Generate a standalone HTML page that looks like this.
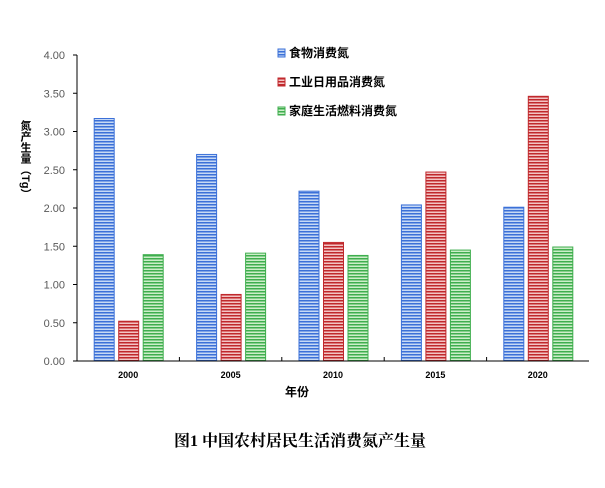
<!DOCTYPE html>
<html><head><meta charset="utf-8"><style>
body{margin:0;background:#fff;}
svg text{font-family:"Liberation Sans","Noto Sans CJK SC",sans-serif;}
</style></head><body>
<svg width="605" height="483" xmlns="http://www.w3.org/2000/svg">
<defs>
<pattern id="pb" width="4" height="3" patternUnits="userSpaceOnUse"><rect width="4" height="3" fill="#c6d9f5"/><rect width="4" height="1.5" fill="#3b70d8"/></pattern>
<pattern id="pr" width="4" height="3" patternUnits="userSpaceOnUse"><rect width="4" height="3" fill="#f3c4c4"/><rect width="4" height="1.5" fill="#c0282c"/></pattern>
<pattern id="pg" width="4" height="3" patternUnits="userSpaceOnUse"><rect width="4" height="3" fill="#cdeec9"/><rect width="4" height="1.5" fill="#3fae4e"/></pattern>
</defs>
<g id="plot"></g>
<text x="25" y="120" font-size="11" font-weight="bold" writing-mode="tb" text-orientation="mixed" style="writing-mode:vertical-rl;text-orientation:mixed">氮产生量（Tg）</text>
<text x="297" y="396" font-size="12" font-weight="bold" text-anchor="middle">年份</text>
<text x="300" y="446" font-size="16" font-weight="bold" text-anchor="middle" font-family="Liberation Serif, Noto Serif CJK SC, serif" style="font-family:'Liberation Serif','Noto Serif CJK SC',serif">图1  中国农村居民生活消费氮产生量</text>
</svg>
<script>
const categories=["2000","2005","2010","2015","2020"];
const food=[3.17,2.70,2.22,2.04,2.01];
const industry=[0.52,0.87,1.55,2.47,3.46];
const fuel=[1.39,1.41,1.38,1.45,1.49];
const seriesNames=["食物消费氮","工业日用品消费氮","家庭生活燃料消费氮"];
const yTicks=[0,0.5,1,1.5,2,2.5,3,3.5,4];
const NS="http://www.w3.org/2000/svg";
const g=document.getElementById('plot');
const x0=77,x1=589,y0=361,y1=55;
const ys=v=>y0-(v/4)*(y0-y1);
const gw=(x1-x0)/categories.length;
function mk(t,a,p){const e=document.createElementNS(NS,t);for(const k in a)e.setAttribute(k,a[k]);(p||g).appendChild(e);return e;}
yTicks.forEach(v=>{
 const t=mk('text',{x:x0-12,y:ys(v)+4,'font-size':11,fill:'#595959','text-anchor':'end'});t.textContent=v.toFixed(2);
 
 
 mk('line',{x1:x0-4,x2:x0,y1:ys(v),y2:ys(v),stroke:'#000'});
});
const series=[food,industry,fuel];const pats=['url(#pb)','url(#pr)','url(#pg)'];const strokes=['#3b70d8','#c0282c','#3fae4e'];
categories.forEach((c,i)=>{
 const cx=x0+gw*(i+0.5);
 series.forEach((s,j)=>{
  const bx=cx-34+j*24.5;
  const r=mk('rect',{x:bx,y:ys(s[i]),width:20,height:y0-ys(s[i]),fill:pats[j],stroke:strokes[j],'stroke-width':1});
  
  
 });
 const t=mk('text',{x:cx,y:y0+17,'font-size':9,'font-weight':'bold','text-anchor':'middle'});t.textContent=c;
 
 
 if(i>0)mk('line',{x1:x0+gw*i,x2:x0+gw*i,y1:y0,y2:y0-4,stroke:'#000'});
});
mk('line',{x1:x0,x2:x0,y1:y1,y2:y0,stroke:'#000'});
mk('line',{x1:x0,x2:x1,y1:y0,y2:y0,stroke:'#000'});
seriesNames.forEach((n,j)=>{
 const ly=55+j*29;
 const lg=mk('g',{});
 
 
 mk('rect',{x:278,y:ly-6,width:7,height:8,fill:pats[j],stroke:strokes[j]},lg);
 const t=mk('text',{x:289,y:ly+2,'font-size':12,'font-weight':'bold'},lg);t.textContent=n;
});
</script>
</body></html>
